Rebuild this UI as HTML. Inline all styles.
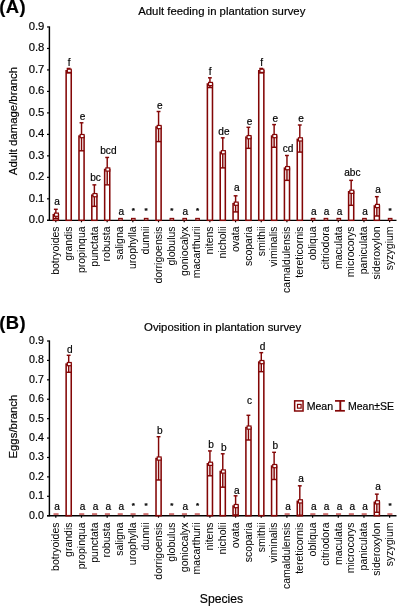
<!DOCTYPE html>
<html><head><meta charset="utf-8"><style>
html,body{margin:0;padding:0;background:#fff;}
svg{display:block;font-family:"Liberation Sans",sans-serif;will-change:transform;}
text{stroke:#000;stroke-width:0.18px;}
text.xl{stroke-width:0;}
</style></head><body>
<svg width="397" height="606" viewBox="0 0 397 606">
<rect width="397" height="606" fill="#fff"/>
<text x="-0.8" y="13.4" font-size="18.4" font-weight="bold" letter-spacing="0.5">(A)</text>
<text x="221.8" y="14.8" font-size="11.35" text-anchor="middle">Adult feeding in plantation survey</text>
<text transform="translate(16.6,121) rotate(-90)" font-size="11.4" text-anchor="middle">Adult damage/branch</text>
<line x1="49.4" y1="26.38" x2="49.4" y2="220.90" stroke="#000" stroke-width="1.45"/>
<line x1="47" y1="220.30" x2="396.5" y2="220.30" stroke="#000" stroke-width="1.35"/>
<line x1="47" y1="220.30" x2="49.4" y2="220.30" stroke="#000" stroke-width="1.2"/>
<text x="44.4" y="223.30" font-size="11.3" text-anchor="end">0.0</text>
<line x1="47" y1="198.82" x2="49.4" y2="198.82" stroke="#000" stroke-width="1.2"/>
<text x="44.4" y="201.82" font-size="11.3" text-anchor="end">0.1</text>
<line x1="47" y1="177.34" x2="49.4" y2="177.34" stroke="#000" stroke-width="1.2"/>
<text x="44.4" y="180.34" font-size="11.3" text-anchor="end">0.2</text>
<line x1="47" y1="155.86" x2="49.4" y2="155.86" stroke="#000" stroke-width="1.2"/>
<text x="44.4" y="158.86" font-size="11.3" text-anchor="end">0.3</text>
<line x1="47" y1="134.38" x2="49.4" y2="134.38" stroke="#000" stroke-width="1.2"/>
<text x="44.4" y="137.38" font-size="11.3" text-anchor="end">0.4</text>
<line x1="47" y1="112.90" x2="49.4" y2="112.90" stroke="#000" stroke-width="1.2"/>
<text x="44.4" y="115.90" font-size="11.3" text-anchor="end">0.5</text>
<line x1="47" y1="91.42" x2="49.4" y2="91.42" stroke="#000" stroke-width="1.2"/>
<text x="44.4" y="94.42" font-size="11.3" text-anchor="end">0.6</text>
<line x1="47" y1="69.94" x2="49.4" y2="69.94" stroke="#000" stroke-width="1.2"/>
<text x="44.4" y="72.94" font-size="11.3" text-anchor="end">0.7</text>
<line x1="47" y1="48.46" x2="49.4" y2="48.46" stroke="#000" stroke-width="1.2"/>
<text x="44.4" y="51.46" font-size="11.3" text-anchor="end">0.8</text>
<line x1="47" y1="26.98" x2="49.4" y2="26.98" stroke="#000" stroke-width="1.2"/>
<text x="44.4" y="29.98" font-size="11.3" text-anchor="end">0.9</text>
<line x1="55.80" y1="220.30" x2="55.80" y2="222.30" stroke="#000" stroke-width="1.2"/>
<text transform="translate(59.10,226.40) rotate(-90)" font-size="10.5" text-anchor="end" class="xl">botryoides</text>
<text transform="translate(71.94,226.40) rotate(-90)" font-size="10.5" text-anchor="end" class="xl">grandis</text>
<line x1="81.48" y1="220.30" x2="81.48" y2="222.30" stroke="#000" stroke-width="1.2"/>
<text transform="translate(84.78,226.40) rotate(-90)" font-size="10.5" text-anchor="end" class="xl">propinqua</text>
<text transform="translate(97.62,226.40) rotate(-90)" font-size="10.5" text-anchor="end" class="xl">punctata</text>
<line x1="107.16" y1="220.30" x2="107.16" y2="222.30" stroke="#000" stroke-width="1.2"/>
<text transform="translate(110.46,226.40) rotate(-90)" font-size="10.5" text-anchor="end" class="xl">robusta</text>
<text transform="translate(123.30,226.40) rotate(-90)" font-size="10.5" text-anchor="end" class="xl">saligna</text>
<line x1="132.84" y1="220.30" x2="132.84" y2="222.30" stroke="#000" stroke-width="1.2"/>
<text transform="translate(136.14,226.40) rotate(-90)" font-size="10.5" text-anchor="end" class="xl">urophylla</text>
<text transform="translate(148.98,226.40) rotate(-90)" font-size="10.5" text-anchor="end" class="xl">dunnii</text>
<line x1="158.52" y1="220.30" x2="158.52" y2="222.30" stroke="#000" stroke-width="1.2"/>
<text transform="translate(161.82,226.40) rotate(-90)" font-size="10.5" text-anchor="end" class="xl">dorrigoensis</text>
<text transform="translate(174.66,226.40) rotate(-90)" font-size="10.5" text-anchor="end" class="xl">globulus</text>
<line x1="184.20" y1="220.30" x2="184.20" y2="222.30" stroke="#000" stroke-width="1.2"/>
<text transform="translate(187.50,226.40) rotate(-90)" font-size="10.5" text-anchor="end" class="xl">goniocalyx</text>
<text transform="translate(200.34,226.40) rotate(-90)" font-size="10.5" text-anchor="end" class="xl">macarthurii</text>
<line x1="209.88" y1="220.30" x2="209.88" y2="222.30" stroke="#000" stroke-width="1.2"/>
<text transform="translate(213.18,226.40) rotate(-90)" font-size="10.5" text-anchor="end" class="xl">nitens</text>
<text transform="translate(226.02,226.40) rotate(-90)" font-size="10.5" text-anchor="end" class="xl">nicholii</text>
<line x1="235.56" y1="220.30" x2="235.56" y2="222.30" stroke="#000" stroke-width="1.2"/>
<text transform="translate(238.86,226.40) rotate(-90)" font-size="10.5" text-anchor="end" class="xl">ovata</text>
<text transform="translate(251.70,226.40) rotate(-90)" font-size="10.5" text-anchor="end" class="xl">scoparia</text>
<line x1="261.24" y1="220.30" x2="261.24" y2="222.30" stroke="#000" stroke-width="1.2"/>
<text transform="translate(264.54,226.40) rotate(-90)" font-size="10.5" text-anchor="end" class="xl">smithii</text>
<text transform="translate(277.38,226.40) rotate(-90)" font-size="10.5" text-anchor="end" class="xl">viminalis</text>
<line x1="286.92" y1="220.30" x2="286.92" y2="222.30" stroke="#000" stroke-width="1.2"/>
<text transform="translate(290.22,226.40) rotate(-90)" font-size="10.5" text-anchor="end" class="xl">camaldulensis</text>
<text transform="translate(303.06,226.40) rotate(-90)" font-size="10.5" text-anchor="end" class="xl">tereticornis</text>
<line x1="312.60" y1="220.30" x2="312.60" y2="222.30" stroke="#000" stroke-width="1.2"/>
<text transform="translate(315.90,226.40) rotate(-90)" font-size="10.5" text-anchor="end" class="xl">obliqua</text>
<text transform="translate(328.74,226.40) rotate(-90)" font-size="10.5" text-anchor="end" class="xl">citriodora</text>
<line x1="338.28" y1="220.30" x2="338.28" y2="222.30" stroke="#000" stroke-width="1.2"/>
<text transform="translate(341.58,226.40) rotate(-90)" font-size="10.5" text-anchor="end" class="xl">maculata</text>
<text transform="translate(354.42,226.40) rotate(-90)" font-size="10.5" text-anchor="end" class="xl">microcorys</text>
<line x1="363.96" y1="220.30" x2="363.96" y2="222.30" stroke="#000" stroke-width="1.2"/>
<text transform="translate(367.26,226.40) rotate(-90)" font-size="10.5" text-anchor="end" class="xl">paniculata</text>
<text transform="translate(380.10,226.40) rotate(-90)" font-size="10.5" text-anchor="end" class="xl">sideroxylon</text>
<line x1="389.64" y1="220.30" x2="389.64" y2="222.30" stroke="#000" stroke-width="1.2"/>
<text transform="translate(392.94,226.40) rotate(-90)" font-size="10.5" text-anchor="end" class="xl">syzygium</text>
<rect x="53.30" y="214.72" width="5.1" height="5.58" fill="#fff" stroke="#830606" stroke-width="1.55"/>
<line x1="55.85" y1="209.30" x2="55.85" y2="218.58" stroke="#830606" stroke-width="1.45"/>
<line x1="53.90" y1="209.30" x2="57.75" y2="209.30" stroke="#830606" stroke-width="1.45"/>
<line x1="53.30" y1="218.58" x2="58.40" y2="218.58" stroke="#830606" stroke-width="1.45"/>
<rect x="54.50" y="213.12" width="3.9" height="3.2" fill="#fff" stroke="#830606" stroke-width="1.2"/>
<text x="57.00" y="205.40" font-size="10.1" text-anchor="middle">a</text>
<rect x="66.14" y="70.80" width="5.1" height="149.50" fill="#fff" stroke="#830606" stroke-width="1.55"/>
<line x1="68.69" y1="68.44" x2="68.69" y2="72.95" stroke="#830606" stroke-width="1.45"/>
<line x1="66.74" y1="68.44" x2="70.59" y2="68.44" stroke="#830606" stroke-width="1.45"/>
<line x1="66.14" y1="72.95" x2="71.24" y2="72.95" stroke="#830606" stroke-width="1.45"/>
<rect x="67.34" y="69.20" width="3.9" height="3.2" fill="#fff" stroke="#830606" stroke-width="1.2"/>
<text x="69.04" y="65.60" font-size="10.1" text-anchor="middle">f</text>
<rect x="78.98" y="136.10" width="5.1" height="84.20" fill="#fff" stroke="#830606" stroke-width="1.55"/>
<line x1="81.53" y1="122.78" x2="81.53" y2="150.79" stroke="#830606" stroke-width="1.45"/>
<line x1="79.58" y1="122.78" x2="83.43" y2="122.78" stroke="#830606" stroke-width="1.45"/>
<line x1="78.98" y1="150.79" x2="84.08" y2="150.79" stroke="#830606" stroke-width="1.45"/>
<rect x="80.18" y="134.50" width="3.9" height="3.2" fill="#fff" stroke="#830606" stroke-width="1.2"/>
<text x="82.68" y="119.70" font-size="10.1" text-anchor="middle">e</text>
<rect x="91.82" y="195.17" width="5.1" height="25.13" fill="#fff" stroke="#830606" stroke-width="1.55"/>
<line x1="94.37" y1="184.86" x2="94.37" y2="206.34" stroke="#830606" stroke-width="1.45"/>
<line x1="92.42" y1="184.86" x2="96.27" y2="184.86" stroke="#830606" stroke-width="1.45"/>
<line x1="91.82" y1="206.34" x2="96.92" y2="206.34" stroke="#830606" stroke-width="1.45"/>
<rect x="93.02" y="193.57" width="3.9" height="3.2" fill="#fff" stroke="#830606" stroke-width="1.2"/>
<text x="95.52" y="180.80" font-size="10.1" text-anchor="middle">bc</text>
<rect x="104.66" y="169.50" width="5.1" height="50.80" fill="#fff" stroke="#830606" stroke-width="1.55"/>
<line x1="107.21" y1="157.45" x2="107.21" y2="184.86" stroke="#830606" stroke-width="1.45"/>
<line x1="105.26" y1="157.45" x2="109.11" y2="157.45" stroke="#830606" stroke-width="1.45"/>
<line x1="104.66" y1="184.86" x2="109.76" y2="184.86" stroke="#830606" stroke-width="1.45"/>
<rect x="105.86" y="167.90" width="3.9" height="3.2" fill="#fff" stroke="#830606" stroke-width="1.2"/>
<text x="108.36" y="154.10" font-size="10.1" text-anchor="middle">bcd</text>
<rect x="118.70" y="218.40" width="3.6" height="1.6" fill="#fff" stroke="#830606" stroke-width="1.1"/>
<text x="121.20" y="214.80" font-size="10.1" text-anchor="middle">a</text>
<rect x="131.54" y="218.40" width="3.6" height="1.6" fill="#fff" stroke="#830606" stroke-width="1.1"/>
<text x="133.34" y="212.70" font-size="8" font-weight="bold" text-anchor="middle">*</text>
<rect x="144.38" y="218.40" width="3.6" height="1.6" fill="#fff" stroke="#830606" stroke-width="1.1"/>
<text x="146.18" y="212.70" font-size="8" font-weight="bold" text-anchor="middle">*</text>
<rect x="156.02" y="127.06" width="5.1" height="93.24" fill="#fff" stroke="#830606" stroke-width="1.55"/>
<line x1="158.57" y1="111.50" x2="158.57" y2="141.60" stroke="#830606" stroke-width="1.45"/>
<line x1="156.62" y1="111.50" x2="160.47" y2="111.50" stroke="#830606" stroke-width="1.45"/>
<line x1="156.02" y1="141.60" x2="161.12" y2="141.60" stroke="#830606" stroke-width="1.45"/>
<rect x="157.22" y="125.46" width="3.9" height="3.2" fill="#fff" stroke="#830606" stroke-width="1.2"/>
<text x="159.72" y="109.20" font-size="10.1" text-anchor="middle">e</text>
<rect x="170.06" y="218.40" width="3.6" height="1.6" fill="#fff" stroke="#830606" stroke-width="1.1"/>
<text x="171.86" y="212.70" font-size="8" font-weight="bold" text-anchor="middle">*</text>
<rect x="182.90" y="218.40" width="3.6" height="1.6" fill="#fff" stroke="#830606" stroke-width="1.1"/>
<text x="185.40" y="214.80" font-size="10.1" text-anchor="middle">a</text>
<rect x="195.74" y="218.40" width="3.6" height="1.6" fill="#fff" stroke="#830606" stroke-width="1.1"/>
<text x="197.54" y="212.70" font-size="8" font-weight="bold" text-anchor="middle">*</text>
<rect x="207.38" y="84.01" width="5.1" height="136.29" fill="#fff" stroke="#830606" stroke-width="1.55"/>
<line x1="209.93" y1="77.80" x2="209.93" y2="87.55" stroke="#830606" stroke-width="1.45"/>
<line x1="207.98" y1="77.80" x2="211.83" y2="77.80" stroke="#830606" stroke-width="1.45"/>
<line x1="207.38" y1="87.55" x2="212.48" y2="87.55" stroke="#830606" stroke-width="1.45"/>
<rect x="208.58" y="82.41" width="3.9" height="3.2" fill="#fff" stroke="#830606" stroke-width="1.2"/>
<text x="210.28" y="74.50" font-size="10.1" text-anchor="middle">f</text>
<rect x="220.22" y="152.25" width="5.1" height="68.05" fill="#fff" stroke="#830606" stroke-width="1.55"/>
<line x1="222.77" y1="137.82" x2="222.77" y2="167.89" stroke="#830606" stroke-width="1.45"/>
<line x1="220.82" y1="137.82" x2="224.67" y2="137.82" stroke="#830606" stroke-width="1.45"/>
<line x1="220.22" y1="167.89" x2="225.32" y2="167.89" stroke="#830606" stroke-width="1.45"/>
<rect x="221.42" y="150.65" width="3.9" height="3.2" fill="#fff" stroke="#830606" stroke-width="1.2"/>
<text x="223.92" y="135.00" font-size="10.1" text-anchor="middle">de</text>
<rect x="233.06" y="203.70" width="5.1" height="16.60" fill="#fff" stroke="#830606" stroke-width="1.55"/>
<line x1="235.61" y1="195.81" x2="235.61" y2="211.92" stroke="#830606" stroke-width="1.45"/>
<line x1="233.66" y1="195.81" x2="237.51" y2="195.81" stroke="#830606" stroke-width="1.45"/>
<line x1="233.06" y1="211.92" x2="238.16" y2="211.92" stroke="#830606" stroke-width="1.45"/>
<rect x="234.26" y="202.10" width="3.9" height="3.2" fill="#fff" stroke="#830606" stroke-width="1.2"/>
<text x="236.76" y="190.80" font-size="10.1" text-anchor="middle">a</text>
<rect x="245.90" y="137.17" width="5.1" height="83.13" fill="#fff" stroke="#830606" stroke-width="1.55"/>
<line x1="248.45" y1="127.29" x2="248.45" y2="148.34" stroke="#830606" stroke-width="1.45"/>
<line x1="246.50" y1="127.29" x2="250.35" y2="127.29" stroke="#830606" stroke-width="1.45"/>
<line x1="245.90" y1="148.34" x2="251.00" y2="148.34" stroke="#830606" stroke-width="1.45"/>
<rect x="247.10" y="135.57" width="3.9" height="3.2" fill="#fff" stroke="#830606" stroke-width="1.2"/>
<text x="249.60" y="125.00" font-size="10.1" text-anchor="middle">e</text>
<rect x="258.74" y="70.80" width="5.1" height="149.50" fill="#fff" stroke="#830606" stroke-width="1.55"/>
<line x1="261.29" y1="68.44" x2="261.29" y2="72.95" stroke="#830606" stroke-width="1.45"/>
<line x1="259.34" y1="68.44" x2="263.19" y2="68.44" stroke="#830606" stroke-width="1.45"/>
<line x1="258.74" y1="72.95" x2="263.84" y2="72.95" stroke="#830606" stroke-width="1.45"/>
<rect x="259.94" y="69.20" width="3.9" height="3.2" fill="#fff" stroke="#830606" stroke-width="1.2"/>
<text x="261.64" y="65.60" font-size="10.1" text-anchor="middle">f</text>
<rect x="271.58" y="136.10" width="5.1" height="84.20" fill="#fff" stroke="#830606" stroke-width="1.55"/>
<line x1="274.13" y1="124.59" x2="274.13" y2="147.27" stroke="#830606" stroke-width="1.45"/>
<line x1="272.18" y1="124.59" x2="276.03" y2="124.59" stroke="#830606" stroke-width="1.45"/>
<line x1="271.58" y1="147.27" x2="276.68" y2="147.27" stroke="#830606" stroke-width="1.45"/>
<rect x="272.78" y="134.50" width="3.9" height="3.2" fill="#fff" stroke="#830606" stroke-width="1.2"/>
<text x="275.28" y="121.60" font-size="10.1" text-anchor="middle">e</text>
<rect x="284.42" y="168.15" width="5.1" height="52.15" fill="#fff" stroke="#830606" stroke-width="1.55"/>
<line x1="286.97" y1="155.49" x2="286.97" y2="180.35" stroke="#830606" stroke-width="1.45"/>
<line x1="285.02" y1="155.49" x2="288.87" y2="155.49" stroke="#830606" stroke-width="1.45"/>
<line x1="284.42" y1="180.35" x2="289.52" y2="180.35" stroke="#830606" stroke-width="1.45"/>
<rect x="285.62" y="166.55" width="3.9" height="3.2" fill="#fff" stroke="#830606" stroke-width="1.2"/>
<text x="288.12" y="151.70" font-size="10.1" text-anchor="middle">cd</text>
<rect x="297.26" y="139.38" width="5.1" height="80.92" fill="#fff" stroke="#830606" stroke-width="1.55"/>
<line x1="299.81" y1="124.99" x2="299.81" y2="152.10" stroke="#830606" stroke-width="1.45"/>
<line x1="297.86" y1="124.99" x2="301.71" y2="124.99" stroke="#830606" stroke-width="1.45"/>
<line x1="297.26" y1="152.10" x2="302.36" y2="152.10" stroke="#830606" stroke-width="1.45"/>
<rect x="298.46" y="137.78" width="3.9" height="3.2" fill="#fff" stroke="#830606" stroke-width="1.2"/>
<text x="300.96" y="121.80" font-size="10.1" text-anchor="middle">e</text>
<rect x="311.30" y="218.40" width="3.6" height="1.6" fill="#fff" stroke="#830606" stroke-width="1.1"/>
<text x="313.80" y="214.80" font-size="10.1" text-anchor="middle">a</text>
<rect x="324.14" y="218.40" width="3.6" height="1.6" fill="#fff" stroke="#830606" stroke-width="1.1"/>
<text x="326.64" y="214.80" font-size="10.1" text-anchor="middle">a</text>
<rect x="336.98" y="218.40" width="3.6" height="1.6" fill="#fff" stroke="#830606" stroke-width="1.1"/>
<text x="339.48" y="214.80" font-size="10.1" text-anchor="middle">a</text>
<rect x="348.62" y="191.80" width="5.1" height="28.50" fill="#fff" stroke="#830606" stroke-width="1.55"/>
<line x1="351.17" y1="180.35" x2="351.17" y2="205.31" stroke="#830606" stroke-width="1.45"/>
<line x1="349.22" y1="180.35" x2="353.07" y2="180.35" stroke="#830606" stroke-width="1.45"/>
<line x1="348.62" y1="205.31" x2="353.72" y2="205.31" stroke="#830606" stroke-width="1.45"/>
<rect x="349.82" y="190.20" width="3.9" height="3.2" fill="#fff" stroke="#830606" stroke-width="1.2"/>
<text x="352.32" y="176.10" font-size="10.1" text-anchor="middle">abc</text>
<rect x="362.66" y="218.40" width="3.6" height="1.6" fill="#fff" stroke="#830606" stroke-width="1.1"/>
<text x="365.16" y="214.80" font-size="10.1" text-anchor="middle">a</text>
<rect x="374.30" y="205.99" width="5.1" height="14.31" fill="#fff" stroke="#830606" stroke-width="1.55"/>
<line x1="376.85" y1="196.67" x2="376.85" y2="216.00" stroke="#830606" stroke-width="1.45"/>
<line x1="374.90" y1="196.67" x2="378.75" y2="196.67" stroke="#830606" stroke-width="1.45"/>
<line x1="374.30" y1="216.00" x2="379.40" y2="216.00" stroke="#830606" stroke-width="1.45"/>
<rect x="375.50" y="204.39" width="3.9" height="3.2" fill="#fff" stroke="#830606" stroke-width="1.2"/>
<text x="378.00" y="192.80" font-size="10.1" text-anchor="middle">a</text>
<rect x="388.34" y="218.40" width="3.6" height="1.6" fill="#fff" stroke="#830606" stroke-width="1.1"/>
<text x="390.14" y="212.70" font-size="8" font-weight="bold" text-anchor="middle">*</text>
<text x="-0.8" y="328.6" font-size="18.4" font-weight="bold" letter-spacing="0.5">(B)</text>
<text x="222.6" y="330.5" font-size="11.35" text-anchor="middle">Oviposition in plantation survey</text>
<text transform="translate(16.6,426.6) rotate(-90)" font-size="11.4" text-anchor="middle">Eggs/branch</text>
<line x1="49.4" y1="340.41" x2="49.4" y2="516.30" stroke="#000" stroke-width="1.45"/>
<line x1="47" y1="515.70" x2="396.5" y2="515.70" stroke="#000" stroke-width="1.35"/>
<line x1="47" y1="515.70" x2="49.4" y2="515.70" stroke="#000" stroke-width="1.2"/>
<text x="43.9" y="518.60" font-size="10.7" text-anchor="end">0.0</text>
<line x1="47" y1="496.29" x2="49.4" y2="496.29" stroke="#000" stroke-width="1.2"/>
<text x="43.9" y="499.19" font-size="10.7" text-anchor="end">0.1</text>
<line x1="47" y1="476.88" x2="49.4" y2="476.88" stroke="#000" stroke-width="1.2"/>
<text x="43.9" y="479.78" font-size="10.7" text-anchor="end">0.2</text>
<line x1="47" y1="457.47" x2="49.4" y2="457.47" stroke="#000" stroke-width="1.2"/>
<text x="43.9" y="460.37" font-size="10.7" text-anchor="end">0.3</text>
<line x1="47" y1="438.06" x2="49.4" y2="438.06" stroke="#000" stroke-width="1.2"/>
<text x="43.9" y="440.96" font-size="10.7" text-anchor="end">0.4</text>
<line x1="47" y1="418.65" x2="49.4" y2="418.65" stroke="#000" stroke-width="1.2"/>
<text x="43.9" y="421.55" font-size="10.7" text-anchor="end">0.5</text>
<line x1="47" y1="399.24" x2="49.4" y2="399.24" stroke="#000" stroke-width="1.2"/>
<text x="43.9" y="402.14" font-size="10.7" text-anchor="end">0.6</text>
<line x1="47" y1="379.83" x2="49.4" y2="379.83" stroke="#000" stroke-width="1.2"/>
<text x="43.9" y="382.73" font-size="10.7" text-anchor="end">0.7</text>
<line x1="47" y1="360.42" x2="49.4" y2="360.42" stroke="#000" stroke-width="1.2"/>
<text x="43.9" y="363.32" font-size="10.7" text-anchor="end">0.8</text>
<line x1="47" y1="341.01" x2="49.4" y2="341.01" stroke="#000" stroke-width="1.2"/>
<text x="43.9" y="343.91" font-size="10.7" text-anchor="end">0.9</text>
<line x1="55.80" y1="515.70" x2="55.80" y2="517.70" stroke="#000" stroke-width="1.2"/>
<text transform="translate(59.10,522.50) rotate(-90)" font-size="10.5" text-anchor="end" class="xl">botryoides</text>
<text transform="translate(71.94,522.50) rotate(-90)" font-size="10.5" text-anchor="end" class="xl">grandis</text>
<line x1="81.48" y1="515.70" x2="81.48" y2="517.70" stroke="#000" stroke-width="1.2"/>
<text transform="translate(84.78,522.50) rotate(-90)" font-size="10.5" text-anchor="end" class="xl">propinqua</text>
<text transform="translate(97.62,522.50) rotate(-90)" font-size="10.5" text-anchor="end" class="xl">punctata</text>
<line x1="107.16" y1="515.70" x2="107.16" y2="517.70" stroke="#000" stroke-width="1.2"/>
<text transform="translate(110.46,522.50) rotate(-90)" font-size="10.5" text-anchor="end" class="xl">robusta</text>
<text transform="translate(123.30,522.50) rotate(-90)" font-size="10.5" text-anchor="end" class="xl">saligna</text>
<line x1="132.84" y1="515.70" x2="132.84" y2="517.70" stroke="#000" stroke-width="1.2"/>
<text transform="translate(136.14,522.50) rotate(-90)" font-size="10.5" text-anchor="end" class="xl">urophylla</text>
<text transform="translate(148.98,522.50) rotate(-90)" font-size="10.5" text-anchor="end" class="xl">dunnii</text>
<line x1="158.52" y1="515.70" x2="158.52" y2="517.70" stroke="#000" stroke-width="1.2"/>
<text transform="translate(161.82,522.50) rotate(-90)" font-size="10.5" text-anchor="end" class="xl">dorrigoensis</text>
<text transform="translate(174.66,522.50) rotate(-90)" font-size="10.5" text-anchor="end" class="xl">globulus</text>
<line x1="184.20" y1="515.70" x2="184.20" y2="517.70" stroke="#000" stroke-width="1.2"/>
<text transform="translate(187.50,522.50) rotate(-90)" font-size="10.5" text-anchor="end" class="xl">goniocalyx</text>
<text transform="translate(200.34,522.50) rotate(-90)" font-size="10.5" text-anchor="end" class="xl">macarthurii</text>
<line x1="209.88" y1="515.70" x2="209.88" y2="517.70" stroke="#000" stroke-width="1.2"/>
<text transform="translate(213.18,522.50) rotate(-90)" font-size="10.5" text-anchor="end" class="xl">nitens</text>
<text transform="translate(226.02,522.50) rotate(-90)" font-size="10.5" text-anchor="end" class="xl">nicholii</text>
<line x1="235.56" y1="515.70" x2="235.56" y2="517.70" stroke="#000" stroke-width="1.2"/>
<text transform="translate(238.86,522.50) rotate(-90)" font-size="10.5" text-anchor="end" class="xl">ovata</text>
<text transform="translate(251.70,522.50) rotate(-90)" font-size="10.5" text-anchor="end" class="xl">scoparia</text>
<line x1="261.24" y1="515.70" x2="261.24" y2="517.70" stroke="#000" stroke-width="1.2"/>
<text transform="translate(264.54,522.50) rotate(-90)" font-size="10.5" text-anchor="end" class="xl">smithii</text>
<text transform="translate(277.38,522.50) rotate(-90)" font-size="10.5" text-anchor="end" class="xl">viminalis</text>
<line x1="286.92" y1="515.70" x2="286.92" y2="517.70" stroke="#000" stroke-width="1.2"/>
<text transform="translate(290.22,522.50) rotate(-90)" font-size="10.5" text-anchor="end" class="xl">camaldulensis</text>
<text transform="translate(303.06,522.50) rotate(-90)" font-size="10.5" text-anchor="end" class="xl">tereticornis</text>
<line x1="312.60" y1="515.70" x2="312.60" y2="517.70" stroke="#000" stroke-width="1.2"/>
<text transform="translate(315.90,522.50) rotate(-90)" font-size="10.5" text-anchor="end" class="xl">obliqua</text>
<text transform="translate(328.74,522.50) rotate(-90)" font-size="10.5" text-anchor="end" class="xl">citriodora</text>
<line x1="338.28" y1="515.70" x2="338.28" y2="517.70" stroke="#000" stroke-width="1.2"/>
<text transform="translate(341.58,522.50) rotate(-90)" font-size="10.5" text-anchor="end" class="xl">maculata</text>
<text transform="translate(354.42,522.50) rotate(-90)" font-size="10.5" text-anchor="end" class="xl">microcorys</text>
<line x1="363.96" y1="515.70" x2="363.96" y2="517.70" stroke="#000" stroke-width="1.2"/>
<text transform="translate(367.26,522.50) rotate(-90)" font-size="10.5" text-anchor="end" class="xl">paniculata</text>
<text transform="translate(380.10,522.50) rotate(-90)" font-size="10.5" text-anchor="end" class="xl">sideroxylon</text>
<line x1="389.64" y1="515.70" x2="389.64" y2="517.70" stroke="#000" stroke-width="1.2"/>
<text transform="translate(392.94,522.50) rotate(-90)" font-size="10.5" text-anchor="end" class="xl">syzygium</text>
<rect x="53.50" y="513.15" width="5.1" height="1.95" fill="#d07272"/>
<text x="57.00" y="509.90" font-size="10.1" text-anchor="middle">a</text>
<rect x="66.14" y="364.11" width="5.1" height="151.59" fill="#fff" stroke="#830606" stroke-width="1.55"/>
<line x1="68.69" y1="355.30" x2="68.69" y2="372.30" stroke="#830606" stroke-width="1.45"/>
<line x1="66.74" y1="355.30" x2="70.59" y2="355.30" stroke="#830606" stroke-width="1.45"/>
<line x1="66.14" y1="372.30" x2="71.24" y2="372.30" stroke="#830606" stroke-width="1.45"/>
<rect x="67.34" y="362.51" width="3.9" height="3.2" fill="#fff" stroke="#830606" stroke-width="1.2"/>
<text x="69.84" y="352.80" font-size="10.1" text-anchor="middle">d</text>
<rect x="79.18" y="513.15" width="5.1" height="1.95" fill="#d07272"/>
<text x="82.68" y="509.90" font-size="10.1" text-anchor="middle">a</text>
<rect x="92.02" y="513.15" width="5.1" height="1.95" fill="#d07272"/>
<text x="95.52" y="509.90" font-size="10.1" text-anchor="middle">a</text>
<rect x="104.86" y="513.15" width="5.1" height="1.95" fill="#d07272"/>
<text x="108.36" y="509.90" font-size="10.1" text-anchor="middle">a</text>
<rect x="117.70" y="513.15" width="5.1" height="1.95" fill="#d07272"/>
<text x="121.20" y="509.90" font-size="10.1" text-anchor="middle">a</text>
<rect x="130.54" y="513.15" width="5.1" height="1.95" fill="#d07272"/>
<text x="133.34" y="507.80" font-size="8" font-weight="bold" text-anchor="middle">*</text>
<rect x="143.38" y="513.15" width="5.1" height="1.95" fill="#d07272"/>
<text x="146.18" y="507.80" font-size="8" font-weight="bold" text-anchor="middle">*</text>
<rect x="156.02" y="458.56" width="5.1" height="57.14" fill="#fff" stroke="#830606" stroke-width="1.55"/>
<line x1="158.57" y1="436.70" x2="158.57" y2="479.99" stroke="#830606" stroke-width="1.45"/>
<line x1="156.62" y1="436.70" x2="160.47" y2="436.70" stroke="#830606" stroke-width="1.45"/>
<line x1="156.02" y1="479.99" x2="161.12" y2="479.99" stroke="#830606" stroke-width="1.45"/>
<rect x="157.22" y="456.96" width="3.9" height="3.2" fill="#fff" stroke="#830606" stroke-width="1.2"/>
<text x="159.72" y="433.50" font-size="10.1" text-anchor="middle">b</text>
<rect x="169.06" y="513.15" width="5.1" height="1.95" fill="#d07272"/>
<text x="171.86" y="507.80" font-size="8" font-weight="bold" text-anchor="middle">*</text>
<rect x="181.90" y="513.15" width="5.1" height="1.95" fill="#d07272"/>
<text x="185.40" y="509.90" font-size="10.1" text-anchor="middle">a</text>
<rect x="194.74" y="513.15" width="5.1" height="1.95" fill="#d07272"/>
<text x="197.54" y="507.80" font-size="8" font-weight="bold" text-anchor="middle">*</text>
<rect x="207.38" y="463.80" width="5.1" height="51.90" fill="#fff" stroke="#830606" stroke-width="1.55"/>
<line x1="209.93" y1="450.91" x2="209.93" y2="475.79" stroke="#830606" stroke-width="1.45"/>
<line x1="207.98" y1="450.91" x2="211.83" y2="450.91" stroke="#830606" stroke-width="1.45"/>
<line x1="207.38" y1="475.79" x2="212.48" y2="475.79" stroke="#830606" stroke-width="1.45"/>
<rect x="208.58" y="462.20" width="3.9" height="3.2" fill="#fff" stroke="#830606" stroke-width="1.2"/>
<text x="211.08" y="448.20" font-size="10.1" text-anchor="middle">b</text>
<rect x="220.22" y="471.50" width="5.1" height="44.20" fill="#fff" stroke="#830606" stroke-width="1.55"/>
<line x1="222.77" y1="453.78" x2="222.77" y2="487.17" stroke="#830606" stroke-width="1.45"/>
<line x1="220.82" y1="453.78" x2="224.67" y2="453.78" stroke="#830606" stroke-width="1.45"/>
<line x1="220.22" y1="487.17" x2="225.32" y2="487.17" stroke="#830606" stroke-width="1.45"/>
<rect x="221.42" y="469.90" width="3.9" height="3.2" fill="#fff" stroke="#830606" stroke-width="1.2"/>
<text x="223.92" y="451.40" font-size="10.1" text-anchor="middle">b</text>
<rect x="233.06" y="506.09" width="5.1" height="9.61" fill="#fff" stroke="#830606" stroke-width="1.55"/>
<line x1="235.61" y1="495.80" x2="235.61" y2="514.92" stroke="#830606" stroke-width="1.45"/>
<line x1="233.66" y1="495.80" x2="237.51" y2="495.80" stroke="#830606" stroke-width="1.45"/>
<line x1="233.06" y1="514.92" x2="238.16" y2="514.92" stroke="#830606" stroke-width="1.45"/>
<rect x="234.26" y="504.49" width="3.9" height="3.2" fill="#fff" stroke="#830606" stroke-width="1.2"/>
<text x="236.76" y="493.50" font-size="10.1" text-anchor="middle">a</text>
<rect x="245.90" y="427.60" width="5.1" height="88.10" fill="#fff" stroke="#830606" stroke-width="1.55"/>
<line x1="248.45" y1="415.29" x2="248.45" y2="440.00" stroke="#830606" stroke-width="1.45"/>
<line x1="246.50" y1="415.29" x2="250.35" y2="415.29" stroke="#830606" stroke-width="1.45"/>
<line x1="245.90" y1="440.00" x2="251.00" y2="440.00" stroke="#830606" stroke-width="1.45"/>
<rect x="247.10" y="426.00" width="3.9" height="3.2" fill="#fff" stroke="#830606" stroke-width="1.2"/>
<text x="249.60" y="403.80" font-size="10.1" text-anchor="middle">c</text>
<rect x="258.74" y="362.11" width="5.1" height="153.59" fill="#fff" stroke="#830606" stroke-width="1.55"/>
<line x1="261.29" y1="352.66" x2="261.29" y2="371.68" stroke="#830606" stroke-width="1.45"/>
<line x1="259.34" y1="352.66" x2="263.19" y2="352.66" stroke="#830606" stroke-width="1.45"/>
<line x1="258.74" y1="371.68" x2="263.84" y2="371.68" stroke="#830606" stroke-width="1.45"/>
<rect x="259.94" y="360.51" width="3.9" height="3.2" fill="#fff" stroke="#830606" stroke-width="1.2"/>
<text x="262.44" y="349.80" font-size="10.1" text-anchor="middle">d</text>
<rect x="271.58" y="466.11" width="5.1" height="49.59" fill="#fff" stroke="#830606" stroke-width="1.55"/>
<line x1="274.13" y1="452.31" x2="274.13" y2="479.50" stroke="#830606" stroke-width="1.45"/>
<line x1="272.18" y1="452.31" x2="276.03" y2="452.31" stroke="#830606" stroke-width="1.45"/>
<line x1="271.58" y1="479.50" x2="276.68" y2="479.50" stroke="#830606" stroke-width="1.45"/>
<rect x="272.78" y="464.51" width="3.9" height="3.2" fill="#fff" stroke="#830606" stroke-width="1.2"/>
<text x="275.28" y="449.00" font-size="10.1" text-anchor="middle">b</text>
<rect x="284.62" y="513.15" width="5.1" height="1.95" fill="#d07272"/>
<text x="288.12" y="509.90" font-size="10.1" text-anchor="middle">a</text>
<rect x="297.26" y="501.36" width="5.1" height="14.34" fill="#fff" stroke="#830606" stroke-width="1.55"/>
<line x1="299.81" y1="485.81" x2="299.81" y2="515.31" stroke="#830606" stroke-width="1.45"/>
<line x1="297.86" y1="485.81" x2="301.71" y2="485.81" stroke="#830606" stroke-width="1.45"/>
<line x1="297.26" y1="515.31" x2="302.36" y2="515.31" stroke="#830606" stroke-width="1.45"/>
<rect x="298.46" y="499.76" width="3.9" height="3.2" fill="#fff" stroke="#830606" stroke-width="1.2"/>
<text x="300.96" y="481.80" font-size="10.1" text-anchor="middle">a</text>
<rect x="310.30" y="513.15" width="5.1" height="1.95" fill="#d07272"/>
<text x="313.80" y="509.90" font-size="10.1" text-anchor="middle">a</text>
<rect x="323.14" y="513.15" width="5.1" height="1.95" fill="#d07272"/>
<text x="326.64" y="509.90" font-size="10.1" text-anchor="middle">a</text>
<rect x="335.98" y="513.15" width="5.1" height="1.95" fill="#d07272"/>
<text x="339.48" y="509.90" font-size="10.1" text-anchor="middle">a</text>
<rect x="348.82" y="513.15" width="5.1" height="1.95" fill="#d07272"/>
<text x="352.32" y="509.90" font-size="10.1" text-anchor="middle">a</text>
<rect x="361.66" y="513.15" width="5.1" height="1.95" fill="#d07272"/>
<text x="365.16" y="509.90" font-size="10.1" text-anchor="middle">a</text>
<rect x="374.30" y="502.31" width="5.1" height="13.39" fill="#fff" stroke="#830606" stroke-width="1.55"/>
<line x1="376.85" y1="494.15" x2="376.85" y2="512.30" stroke="#830606" stroke-width="1.45"/>
<line x1="374.90" y1="494.15" x2="378.75" y2="494.15" stroke="#830606" stroke-width="1.45"/>
<line x1="374.30" y1="512.30" x2="379.40" y2="512.30" stroke="#830606" stroke-width="1.45"/>
<rect x="375.50" y="500.71" width="3.9" height="3.2" fill="#fff" stroke="#830606" stroke-width="1.2"/>
<text x="378.00" y="489.80" font-size="10.1" text-anchor="middle">a</text>
<rect x="387.34" y="513.15" width="5.1" height="1.95" fill="#d07272"/>
<text x="390.14" y="507.80" font-size="8" font-weight="bold" text-anchor="middle">*</text>

<rect x="294.65" y="400.85" width="8.4" height="10.15" fill="#fff" stroke="#830606" stroke-width="1.5"/>
<rect x="297.5" y="404.4" width="3.6" height="3.75" fill="#fff" stroke="#830606" stroke-width="1.2"/>
<text x="306.7" y="409.7" font-size="10.55">Mean</text>
<line x1="340.3" y1="400.9" x2="340.3" y2="410.8" stroke="#830606" stroke-width="1.9"/>
<line x1="335.0" y1="400.9" x2="344.9" y2="400.9" stroke="#830606" stroke-width="1.7"/>
<line x1="335.0" y1="410.8" x2="344.9" y2="410.8" stroke="#830606" stroke-width="1.7"/>
<text x="348.0" y="409.6" font-size="10.5">Mean±SE</text>
<text x="221.5" y="603.1" font-size="12.2" text-anchor="middle">Species</text>

</svg>
</body></html>
